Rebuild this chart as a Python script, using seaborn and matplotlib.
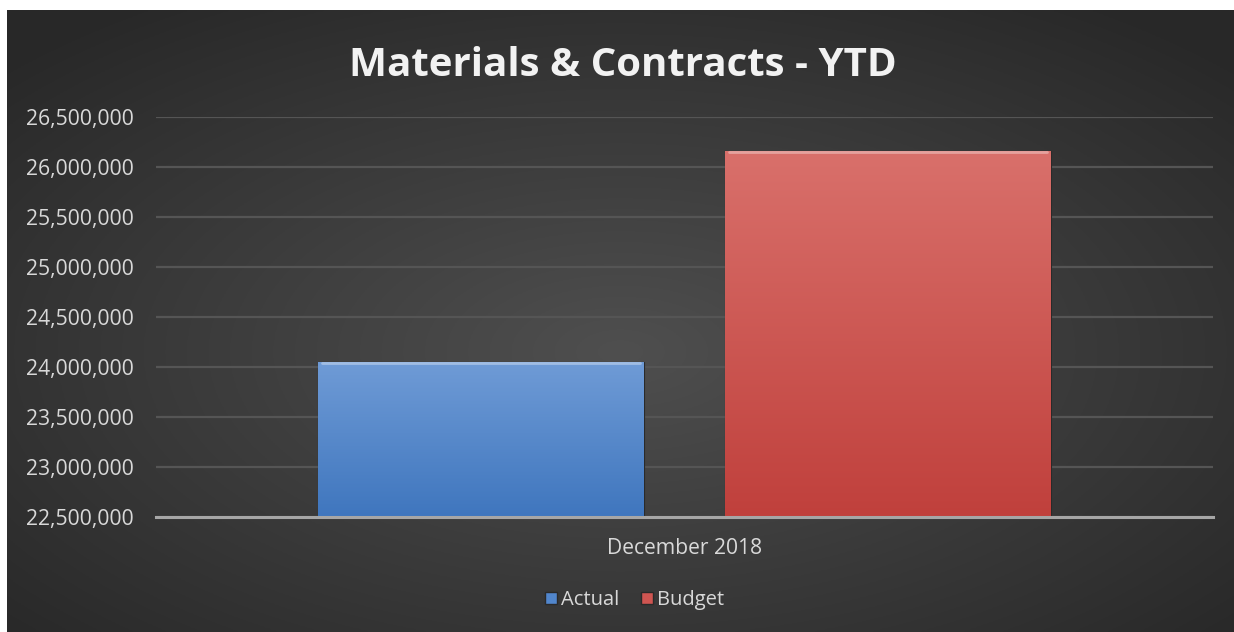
import numpy as np
import pandas as pd
import matplotlib
matplotlib.use("Agg")
import matplotlib.pyplot as plt
import seaborn as sns
from matplotlib.ticker import FuncFormatter
from matplotlib.lines import Line2D
from matplotlib.colors import to_rgb

# data
periods = ["December 2018"]
series = ["Actual", "Budget"]
values = [24050000, 26160000]
y_ticks = [22500000, 23000000, 23500000, 24000000, 24500000, 25000000, 25500000, 26000000, 26500000]

colors = {"Actual": "#5186cc", "Budget": "#cf5551"}
# top / bottom shades for the bar gradients
shades = {"Actual": ("#6f9bd6", "#3f76be"), "Budget": ("#d9706b", "#c0403c")}

df = pd.DataFrame({"Period": periods * len(series), "Series": series, "Value": values})

sns.set_theme(style="dark")
plt.rcParams['font.family'] = ['Open Sans', 'DejaVu Sans']
text_col = "#d9d9d9"

fig = plt.figure(figsize=(12.34, 6.32), dpi=100)
fig.patch.set_facecolor("white")

# dark radial background (chart area sits inside a thin white border)
bg = fig.add_axes([7 / 1234, 0, 1 - 7 / 1234, 1 - 10 / 632])
bg.set_axis_off()
yy, xx = np.mgrid[0:1:300j, 0:1:600j]
r = np.sqrt(((xx - 0.5) / 0.9) ** 2 + ((yy - 0.55) / 0.9) ** 2)
shade = 0.31 - 0.15 * np.clip(r / 0.75, 0, 1)
bg.imshow(np.dstack([shade] * 3), aspect="auto", extent=[0, 1, 0, 1])
bg.set_xlim(0, 1)
bg.set_ylim(0, 1)

ax = fig.add_axes([156 / 1234, (632 - 516.7) / 632, (1213 - 156) / 1234, (516.7 - 116.7) / 632])
ax.set_facecolor("none")
sns.barplot(data=df, x="Period", y="Value", hue="Series", palette=colors,
            width=0.77, gap=0.2, saturation=1, ax=ax, legend=False,
            edgecolor="#2a2a2a", linewidth=0.8, zorder=3)

ymin, ymax = 22500000, 26500000
ax.set_ylim(ymin, ymax)
ax.set_xlim(-0.5, 0.5)

# vertical gradient fill inside each bar
for patch, s in zip(ax.patches, series):
    x0, w, h = patch.get_x(), patch.get_width(), patch.get_height()
    top, bot = np.array(to_rgb(shades[s][0])), np.array(to_rgb(shades[s][1]))
    t = np.linspace(0, 1, 200)[:, None]
    grad = (top * (1 - t) + bot * t)[:, None, :]
    im = ax.imshow(grad, aspect="auto", extent=[x0, x0 + w, ymin, h], zorder=3.5)
    im.set_clip_path(patch)
    # light rim along the top edge
    ax.plot([x0 + 0.004, x0 + w - 0.004], [h - 15000, h - 15000], color="#ffffff",
            alpha=0.35, linewidth=2, zorder=3.6)

ax.set_ylim(ymin, ymax)
ax.set_xlim(-0.5, 0.5)
ax.set_yticks(y_ticks)
ax.yaxis.set_major_formatter(FuncFormatter(lambda v, p: f"{v:,.0f}"))
ax.grid(axis="y", color="#555555", linewidth=1.6, zorder=0)
ax.grid(axis="x", visible=False)
for s in ["top", "right", "left"]:
    ax.spines[s].set_visible(False)
ax.spines["bottom"].set_color("#a6a6a6")
ax.spines["bottom"].set_linewidth(2.2)
ax.spines["bottom"].set_zorder(4)
ax.tick_params(axis="both", colors=text_col, labelsize=15.2, length=0)
ax.tick_params(axis="y", pad=16)
ax.tick_params(axis="x", pad=15)
ax.set_xlabel("")
ax.set_ylabel("")

fig.text(623 / 1234, 1 - 66 / 632, "Materials & Contracts - YTD", ha="center", va="center",
         fontsize=29, fontweight="bold", color="#f2f2f2")

handles = [Line2D([], [], marker="s", linestyle="", markersize=8, markerfacecolor=colors[s],
                  markeredgecolor="#2a2a2a", label=s) for s in series]
leg = fig.legend(handles=handles, loc="center", bbox_to_anchor=(631.5 / 1234, 1 - 600 / 632), ncol=2,
                 frameon=False, fontsize=14.5, handletextpad=-0.1, columnspacing=0.8,
                 handlelength=1.2)
for t in leg.get_texts():
    t.set_color(text_col)

fig.savefig("out.png", dpi=100, facecolor=fig.get_facecolor())
